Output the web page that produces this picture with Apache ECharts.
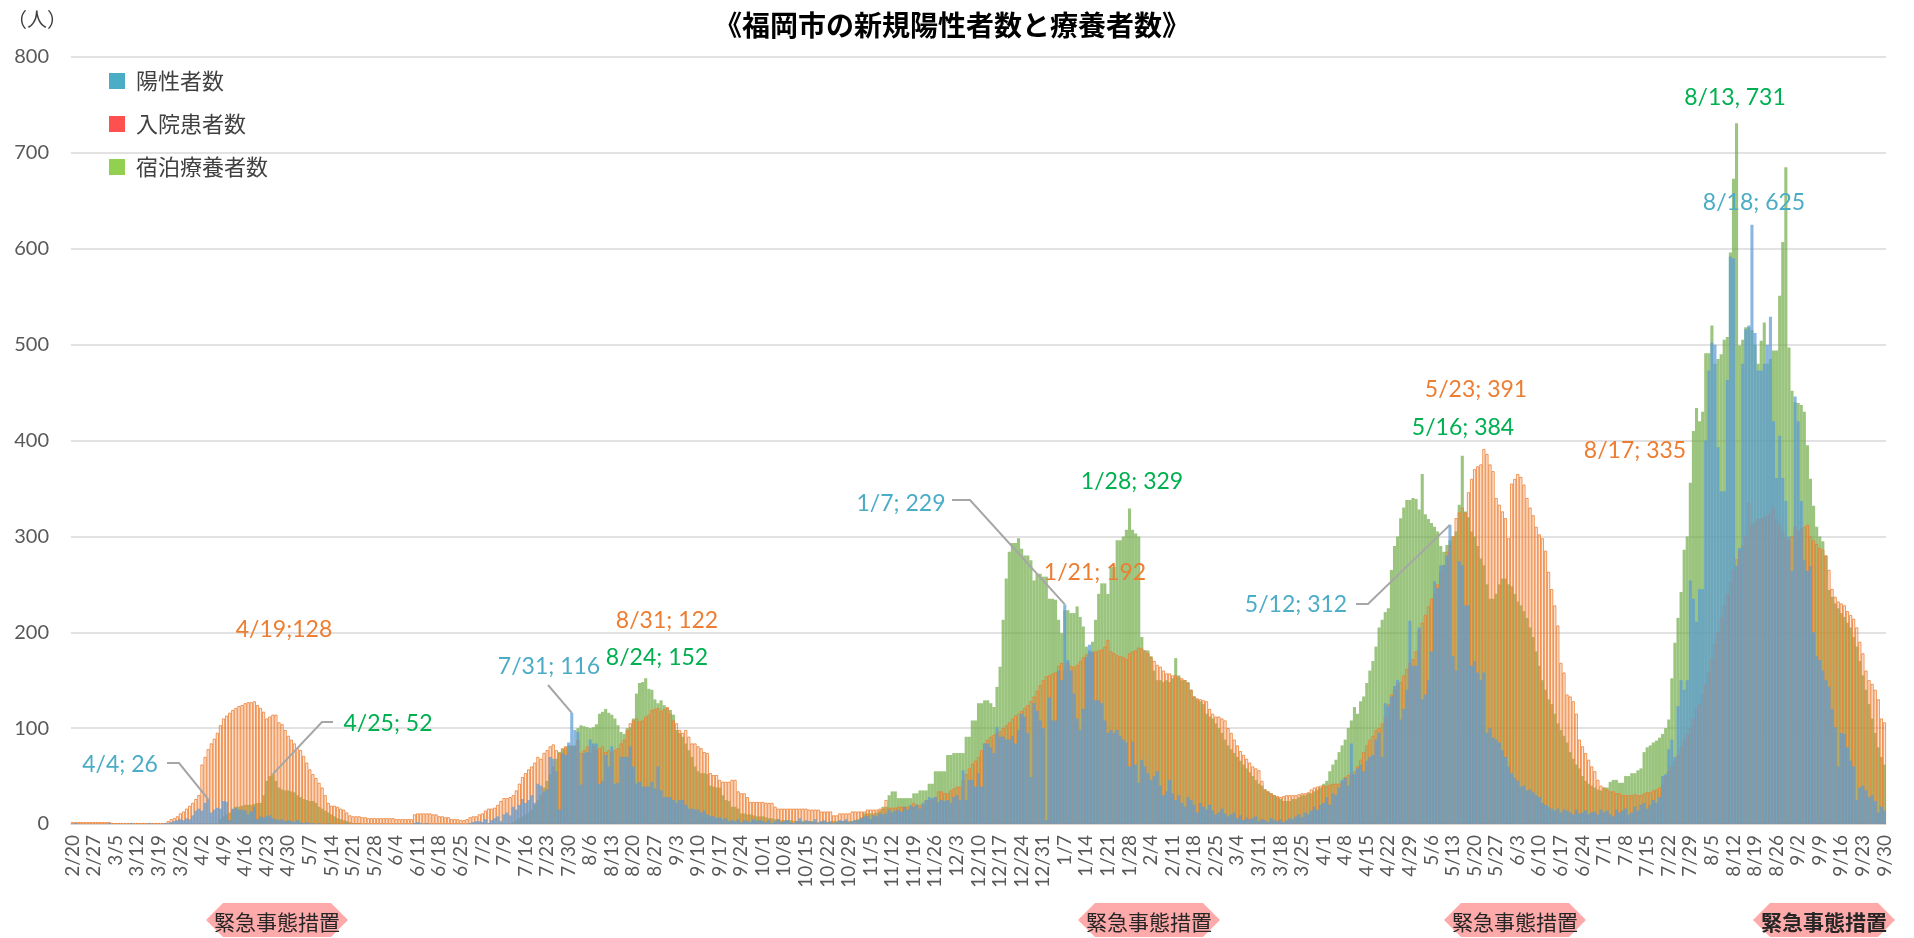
<!DOCTYPE html>
<html>
<head>
<meta charset="utf-8">
<title>福岡市の新規陽性者数と療養者数</title>
<script src="https://cdn.jsdelivr.net/npm/echarts@6/dist/echarts.min.js"></script>
<style>
  html, body { margin: 0; padding: 0; background: #fff; }
  #chart { width: 1914px; height: 938px; }
</style>
</head>
<body>
<div id="chart"></div>
<script>
// 日別データ 2020/2/20 〜 2021/9/30（月ごとに改行）
const positive = [
  0,1,0,0,0,0,0,0,0,0,
  0,0,1,0,0,0,0,0,0,1,0,0,0,0,0,1,0,0,0,0,1,1,2,3,4,5,4,6,5,9,14,
  16,14,22,26,12,15,17,16,24,23,4,16,17,15,15,14,10,13,18,5,8,7,8,9,6,5,4,5,3,4,
  3,2,4,2,1,2,1,1,0,1,0,0,1,0,0,0,0,0,1,0,0,0,0,0,0,0,0,0,0,0,0,
  0,0,0,0,0,0,0,0,0,1,2,1,0,1,0,0,0,0,0,0,0,0,0,0,0,0,0,1,2,3,
  3,2,5,1,4,6,8,3,10,12,9,18,15,20,26,22,25,30,22,42,40,34,36,70,68,55,15,74,72,85,116,
  98,96,41,74,75,88,84,84,42,45,72,60,81,42,43,70,70,70,81,60,42,44,39,39,39,44,37,60,35,28,28,
  28,25,22,25,25,20,16,16,15,15,12,14,10,8,8,6,7,5,6,3,4,3,5,2,4,3,2,5,3,4,
  3,2,4,1,3,5,2,3,4,2,1,3,6,2,4,3,2,5,1,3,4,2,3,1,2,4,3,5,2,3,4,
  4,6,8,8,5,9,8,11,10,11,15,12,14,15,13,18,15,20,18,20,16,22,25,28,27,28,23,25,24,25,
  22,28,30,25,56,25,46,46,39,53,39,84,84,80,74,101,91,91,88,88,92,84,98,115,112,95,49,126,118,108,100,
  4,132,108,108,160,150,229,171,160,136,110,98,120,174,187,180,129,129,126,108,95,98,95,98,92,88,85,60,86,62,43,
  67,60,53,46,50,55,40,30,34,46,32,25,30,22,18,28,25,20,12,22,18,15,20,14,10,12,16,11,
  8,10,12,6,9,4,7,5,6,8,3,5,4,2,6,4,3,5,2,4,6,5,8,10,7,12,10,14,18,15,20,
  22,28,20,32,30,38,46,48,40,84,52,58,62,55,66,70,72,88,95,70,126,123,133,144,150,109,120,140,212,165,
  165,205,130,135,150,180,253,246,270,270,280,312,175,160,274,270,228,228,165,170,158,150,158,95,100,90,88,85,77,70,60,
  53,48,45,39,40,35,36,33,30,28,22,20,18,16,14,16,12,15,14,12,10,15,11,12,14,10,12,13,10,15,
  12,14,10,8,15,12,14,16,10,12,18,14,20,22,16,20,25,22,28,50,52,78,88,70,123,150,140,150,254,235,211,
  245,245,400,473,502,500,393,347,347,463,592,590,269,288,480,516,520,625,512,473,473,480,500,529,420,361,405,361,337,300,264,
  446,420,337,275,264,269,200,175,171,160,150,143,120,101,60,95,94,80,66,60,25,38,40,35,28,30,24,12,18,14
];

const inpatient = [
  2,2,2,2,2,2,2,2,2,2,
  2,2,2,1,1,1,1,1,1,1,1,1,1,1,1,1,1,1,1,1,1,3,5,6,8,11,13,16,19,22,26,
  30,62,70,78,84,89,95,103,110,113,116,119,121,123,124,126,127,127,128,124,121,117,110,112,114,114,106,104,98,92,
  88,84,79,77,71,64,57,52,48,43,38,30,22,19,19,18,16,15,12,9,8,8,8,7,7,6,6,6,6,6,6,
  6,6,6,5,5,5,5,5,5,10,11,11,11,11,11,10,10,8,8,7,7,5,5,5,4,4,5,7,8,8,
  10,11,14,16,16,17,20,24,27,27,28,30,35,42,49,53,57,60,64,70,68,74,77,81,83,77,74,79,81,74,81,
  81,88,74,77,81,74,81,77,79,81,75,77,75,77,79,84,88,98,105,108,110,107,108,112,114,119,120,121,118,120,122,
  115,108,105,98,95,98,91,84,84,81,79,75,74,53,51,51,46,44,44,44,46,46,34,32,32,28,23,23,23,23,
  23,22,22,22,18,16,16,16,16,16,16,16,16,16,16,15,15,15,15,13,13,13,13,9,9,11,11,11,11,13,13,
  13,13,13,15,15,15,15,16,16,25,17,17,17,18,18,18,18,18,22,20,20,20,25,25,25,28,34,34,32,32,
  35,37,39,39,46,52,58,63,66,70,77,84,88,91,93,95,97,100,103,106,110,113,115,118,121,124,128,133,139,145,150,
  154,155,157,158,165,168,160,168,165,164,166,170,174,177,178,178,180,181,182,185,192,180,178,176,175,174,172,178,180,181,184,
  183,181,178,174,170,166,164,160,157,157,155,155,153,152,150,147,140,133,131,130,129,128,120,115,112,112,110,108,
  100,95,88,82,76,72,68,64,60,58,56,45,36,34,32,30,29,28,29,30,30,30,30,31,32,32,33,36,38,39,40,
  40,40,41,42,42,42,44,49,51,53,55,60,67,75,82,88,92,98,100,105,112,125,135,140,145,148,155,162,168,172,
  180,202,210,218,227,235,240,250,263,270,284,291,300,319,325,330,325,346,360,370,373,375,391,386,375,368,340,333,326,319,298,
  355,360,365,362,354,340,330,322,310,302,298,285,263,245,228,207,168,158,135,133,128,115,88,81,74,67,60,55,46,40,
  38,36,34,34,32,32,30,30,30,30,31,30,30,32,33,33,35,36,38,42,50,55,60,66,72,80,88,94,100,110,120,
  125,135,145,158,172,188,200,215,228,240,252,265,276,285,290,300,335,312,315,318,318,320,322,325,330,318,312,305,298,296,300,
  310,305,308,310,312,300,296,292,288,286,280,265,245,237,232,230,228,222,218,214,205,190,178,160,150,146,140,130,110,106
];

const hotel = [
  0,0,0,0,0,0,0,0,0,0,
  0,0,0,0,0,0,0,0,0,0,0,0,0,0,0,0,0,0,0,0,0,0,0,0,0,0,0,0,0,0,0,
  0,0,0,0,0,0,0,5,8,10,12,15,18,18,19,20,20,20,21,22,22,30,45,50,52,45,38,36,35,35,
  34,33,30,28,26,25,24,24,22,18,16,14,12,10,8,6,5,4,3,2,1,1,1,0,0,0,0,0,0,0,0,
  0,0,0,0,0,0,0,0,0,0,0,0,0,0,0,0,0,0,0,0,0,0,0,0,0,0,0,0,0,0,
  0,0,0,0,0,0,0,0,0,0,0,2,4,6,8,10,12,15,20,25,30,38,45,52,60,68,75,78,80,82,82,
  82,100,103,102,101,100,101,104,115,117,120,116,114,110,103,96,94,100,101,110,136,147,148,152,141,140,130,126,129,124,121,
  119,114,98,95,91,84,77,70,60,55,53,53,52,40,39,38,38,30,25,24,18,18,16,11,11,10,10,9,8,8,
  8,7,6,6,5,5,4,4,4,4,3,3,3,3,3,3,3,2,2,2,2,2,2,3,3,3,3,3,3,3,4,
  5,7,11,11,11,11,12,14,18,18,30,34,34,27,27,27,27,27,32,32,35,35,35,42,42,55,55,55,55,72,
  72,74,74,74,74,91,91,108,108,126,126,129,129,126,122,143,164,213,256,284,293,293,298,287,280,280,275,254,261,261,258,
  258,235,235,234,213,199,223,223,220,220,227,216,206,185,181,190,213,240,251,251,240,268,268,296,296,300,307,329,307,303,300,
  195,181,181,175,160,150,150,148,150,148,152,173,155,150,150,148,140,133,130,128,125,115,112,110,105,100,95,88,
  82,78,74,70,66,62,58,54,50,46,42,40,36,34,32,30,28,26,24,24,24,26,26,28,30,30,32,32,34,36,38,
  42,45,55,62,67,75,82,88,100,108,122,115,128,133,147,160,170,185,205,213,221,225,265,290,300,319,330,338,338,340,
  339,328,365,323,318,314,310,305,290,284,291,296,300,305,333,384,326,320,305,300,290,277,270,250,235,235,240,250,256,256,250,
  248,240,232,228,222,215,205,195,180,165,150,140,130,125,115,105,98,92,85,75,68,62,58,50,45,42,40,38,36,35,
  38,38,44,46,46,43,43,50,50,53,53,56,58,75,80,82,85,87,90,94,100,109,152,189,215,242,286,300,356,410,434,
  420,430,491,491,520,480,485,490,505,508,596,673,731,499,505,518,518,515,500,480,504,523,480,485,494,494,551,607,685,497,452,
  440,439,437,430,395,360,332,310,300,295,280,244,237,230,225,220,216,210,205,195,185,170,155,140,125,110,95,80,70,62
];

// 日付カテゴリ（2020/2/20 から1日刻み）
const startDate = Date.UTC(2020, 1, 20);
const dayMs = 86400000;
const dates = positive.map((_, i) => {
  const d = new Date(startDate + i * dayMs);
  return (d.getUTCMonth() + 1) + '/' + d.getUTCDate();
});
function dayIndex(s) {
  const [y, m, d] = s.split('-').map(Number);
  return Math.round((Date.UTC(y, m - 1, d) - startDate) / dayMs);
}

const yTicks = { min: 0, max: 800, interval: 100 };

const seriesData = { positive: positive, inpatient: inpatient, hotel: hotel };
const noteColor = { positive: '#4bacc6', inpatient: '#ed7d31', hotel: '#00b050' };

// データラベル（text位置は画面座標、leaderは引き出し線の折れ点）
const notes = [
  { key: 'positive', day: '2020-04-04', text: '4/4; 26', at: [120, 765], leader: [[167, 763], [179, 763]] },
  { key: 'inpatient', day: '2020-04-19', text: '4/19;128', at: [284, 630] },
  { key: 'hotel', day: '2020-04-25', text: '4/25; 52', at: [388, 724], leader: [[333, 722], [322, 722]] },
  { key: 'positive', day: '2020-07-31', text: '7/31; 116', at: [549, 667], leader: [[548, 685]] },
  { key: 'hotel', day: '2020-08-24', text: '8/24; 152', at: [657, 658] },
  { key: 'inpatient', day: '2020-08-31', text: '8/31; 122', at: [667, 621] },
  { key: 'positive', day: '2021-01-07', text: '1/7; 229', at: [901, 504], leader: [[952, 500], [970, 500]] },
  { key: 'inpatient', day: '2021-01-21', text: '1/21; 192', at: [1095, 573] },
  { key: 'hotel', day: '2021-01-28', text: '1/28; 329', at: [1132, 482] },
  { key: 'positive', day: '2021-05-12', text: '5/12; 312', at: [1296, 605], leader: [[1356, 604], [1368, 604]] },
  { key: 'hotel', day: '2021-05-16', text: '5/16; 384', at: [1463, 428] },
  { key: 'inpatient', day: '2021-05-23', text: '5/23; 391', at: [1476, 390] },
  { key: 'inpatient', day: '2021-08-17', text: '8/17; 335', at: [1635, 451] },
  { key: 'hotel', day: '2021-08-13', text: '8/13, 731', at: [1735, 98] },
  { key: 'positive', day: '2021-08-18', text: '8/18; 625', at: [1754, 203] }
];

// 緊急事態措置のラベル（中心x）
const emergencyTags = [
  { x: 277, bold: false },
  { x: 1149, bold: false },
  { x: 1515, bold: false },
  { x: 1824, bold: true }
];

const fontLatin = 'Lato, "Noto Sans CJK JP", sans-serif';
const fontJp = '"Noto Sans CJK JP", sans-serif';

const chart = echarts.init(document.getElementById('chart'));
chart.setOption({
  animation: false,
  backgroundColor: '#fff',
  title: {
    text: '《福岡市の新規陽性者数と療養者数》',
    left: 947,
    textAlign: 'center',
    top: 6,
    textStyle: { fontSize: 28, fontWeight: 'bold', color: '#000', fontFamily: fontJp }
  },
  legend: {
    orient: 'vertical',
    left: 104,
    top: 65,
    itemWidth: 16,
    itemHeight: 16,
    itemGap: 21,
    icon: 'rect',
    selectedMode: false,
    textStyle: { fontSize: 22, lineHeight: 22, color: '#404040', fontFamily: fontJp, padding: [0, 0, 0, 6] },
    data: [
      { name: '陽性者数', itemStyle: { color: '#4bacc6', borderWidth: 0 } },
      { name: '入院患者数', itemStyle: { color: '#ff5050', borderWidth: 0 } },
      { name: '宿泊療養者数', itemStyle: { color: '#92d050', borderWidth: 0 } }
    ]
  },
  grid: { left: 71, right: 28, top: 57, bottom: 114 },
  xAxis: {
    type: 'category',
    data: dates,
    axisTick: { show: false },
    axisLine: { lineStyle: { color: '#d9d9d9', width: 1.5 } },
    axisLabel: {
      interval: 6,
      rotate: 90,
      margin: 11,
      fontSize: 19,
      color: '#595959',
      fontFamily: fontLatin
    }
  },
  yAxis: {
    type: 'value',
    min: yTicks.min,
    max: yTicks.max,
    interval: yTicks.interval,
    axisLine: { show: false },
    axisTick: { show: false },
    splitLine: { lineStyle: { color: '#d9d9d9', width: 1.5 } },
    axisLabel: { fontSize: 20, color: '#595959', margin: 22, fontFamily: fontLatin }
  },
  series: [
    {
      name: '宿泊療養者数',
      type: 'bar',
      data: hotel,
      barGap: '-100%',
      barCategoryGap: '0%',
      itemStyle: { color: 'rgba(112,173,71,0.7)' }
    },
    {
      name: '入院患者数',
      type: 'bar',
      data: inpatient,
      barGap: '-100%',
      barCategoryGap: '0%',
      itemStyle: { color: 'rgba(237,125,49,0.18)', borderColor: '#ed7d31', borderWidth: 0.8 }
    },
    {
      name: '陽性者数',
      type: 'bar',
      data: positive,
      barGap: '-100%',
      barCategoryGap: '0%',
      itemStyle: { color: 'rgba(91,155,213,0.72)' }
    }
  ]
});

// ラベル・引き出し線・措置タグ
const graphics = [];
graphics.push({
  type: 'text', z: 100,
  style: { text: '（人）', x: 37, y: 19, align: 'center', verticalAlign: 'middle',
    fill: '#404040', fontSize: 20, fontFamily: fontJp }
});
notes.forEach(n => {
  if (n.leader) {
    const i = dayIndex(n.day);
    const p = chart.convertToPixel({ gridIndex: 0 }, [i, seriesData[n.key][i]]);
    graphics.push({
      type: 'polyline', z: 100,
      shape: { points: n.leader.concat([p]) },
      style: { stroke: '#a6a6a6', lineWidth: 2, fill: null }
    });
  }
  graphics.push({
    type: 'text', z: 101,
    style: { text: n.text, x: n.at[0], y: n.at[1], align: 'center', verticalAlign: 'middle',
      fill: noteColor[n.key], fontSize: 23, fontFamily: fontLatin }
  });
});
emergencyTags.forEach(t => {
  const w = 142, h = 34, cy = 920, s = 17;
  const l = t.x - w / 2, r = t.x + w / 2;
  graphics.push({
    type: 'polygon', z: 100,
    shape: { points: [[l, cy], [l + s, cy - h / 2], [r - s, cy - h / 2], [r, cy], [r - s, cy + h / 2], [l + s, cy + h / 2]] },
    style: { fill: '#ffaaaa' }
  });
  graphics.push({
    type: 'text', z: 101,
    style: { text: '緊急事態措置', x: t.x, y: cy + 2, align: 'center', verticalAlign: 'middle',
      fill: '#262626', fontSize: 21, fontWeight: t.bold ? 'bold' : 'normal', fontFamily: fontJp }
  });
});
chart.setOption({ graphic: graphics });
</script>
</body>
</html>
